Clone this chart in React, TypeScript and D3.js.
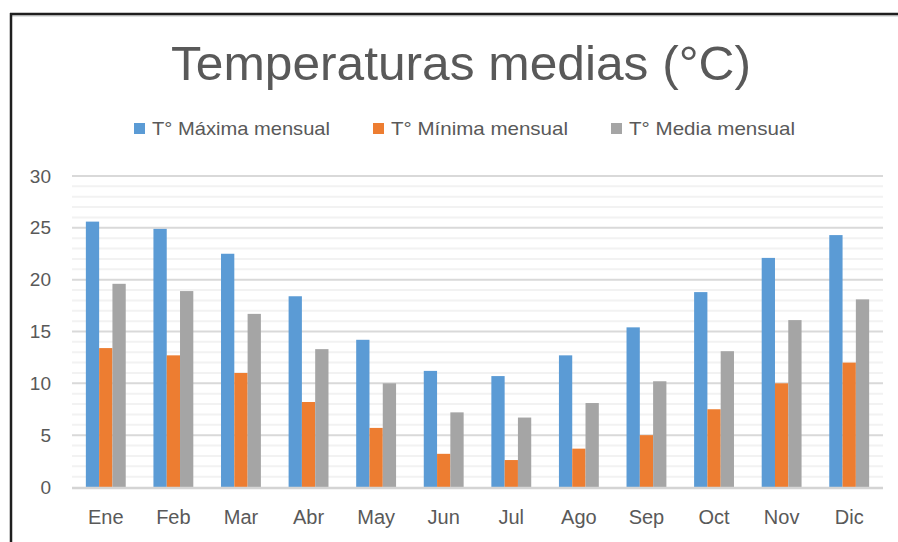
import React from "react";
import * as d3 from "d3";

const months = ["Ene", "Feb", "Mar", "Abr", "May", "Jun", "Jul", "Ago", "Sep", "Oct", "Nov", "Dic"];
const seriesNames = ["T° Máxima mensual", "T° Mínima mensual", "T° Media mensual"];
const maxTemp = [25.6, 24.9, 22.5, 18.4, 14.2, 11.2, 10.7, 12.7, 15.4, 18.8, 22.1, 24.3];
const minTemp = [13.4, 12.7, 11.0, 8.2, 5.7, 3.2, 2.6, 3.7, 5.0, 7.5, 10.0, 12.0];
const meanTemp = [19.6, 18.9, 16.7, 13.3, 10.0, 7.2, 6.7, 8.1, 10.2, 13.1, 16.1, 18.1];
const majorTicks = [0, 5, 10, 15, 20, 25, 30];
const minorTicks = d3.range(0, 31, 1).filter((v) => v % 5 !== 0);
const colors = ["#5b9bd5", "#ed7d31", "#a5a5a5"];

const W = 898;
const H = 542;
const FONT = "'Liberation Sans', Arial, sans-serif";

export default function App() {
  const seriesValues = [maxTemp, minTemp, meanTemp];
  const x0 = d3.scaleBand<string>().domain(months).range([72, 883]).paddingInner(0.41).paddingOuter(0.205);
  const x1 = d3.scaleBand<number>().domain([0, 1, 2]).range([0, x0.bandwidth()]).padding(0);
  const y = d3.scaleLinear().domain([0, 30]).range([487, 176]);
  const legendX = [134, 373, 611];
  const legendLen = [178, 177, 166];

  return (
    <svg width={W} height={H} style={{ position: "absolute", left: 0, top: 0, background: "#fff" }} fontFamily={FONT}>
      <rect x={0} y={0} width={W} height={H} fill="#fff" />
      {/* border */}
      <line x1={10} x2={W} y1={16} y2={16} stroke="#d6d9d9" strokeWidth={1.5} />
      <line x1={10} x2={W} y1={14} y2={14} stroke="#1f1f1f" strokeWidth={2.5} />
      <line x1={11} x2={11} y1={13} y2={H} stroke="#1f1f1f" strokeWidth={2.5} />

      {/* title */}
      <text x={461} y={80} textAnchor="middle" fontSize={49} fill="#595959" textLength={580} lengthAdjust="spacingAndGlyphs">
        Temperaturas medias (°C)
      </text>

      {/* legend */}
      {seriesNames.map((s, i) => (
        <g key={s}>
          <rect x={legendX[i]} y={123} width={11} height={11} fill={colors[i]} />
          <text x={legendX[i] + 18} y={135} fontSize={19} fill="#595959" textLength={legendLen[i]} lengthAdjust="spacingAndGlyphs">
            {s}
          </text>
        </g>
      ))}

      {/* gridlines */}
      {minorTicks.map((t) => (
        <line key={"m" + t} x1={72} x2={883} y1={y(t)} y2={y(t)} stroke="#f2f2f2" strokeWidth={2} />
      ))}
      {majorTicks.filter((t) => t !== 0).map((t) => (
        <line key={"M" + t} x1={72} x2={883} y1={y(t)} y2={y(t)} stroke="#d9d9d9" strokeWidth={2} />
      ))}

      {/* bars */}
      {months.map((m, mi) => (
        <g key={m} transform={`translate(${x0(m)},0)`}>
          {seriesValues.map((vals, si) => (
            <rect
              key={si}
              x={x1(si)}
              y={y(vals[mi])}
              width={x1.bandwidth()}
              height={y(0) - y(vals[mi])}
              fill={colors[si]}
            />
          ))}
        </g>
      ))}

      {/* zero axis line */}
      <line x1={72} x2={883} y1={y(0) + 1} y2={y(0) + 1} stroke="#d4d4d4" strokeWidth={2.5} />

      {/* y tick labels */}
      {majorTicks.map((t) => (
        <text key={"yl" + t} x={51} y={y(t)} dy="0.35em" textAnchor="end" fontSize={19} fill="#595959">
          {t}
        </text>
      ))}

      {/* x labels */}
      {months.map((m) => (
        <text key={"xl" + m} x={(x0(m) as number) + x0.bandwidth() / 2} y={524} textAnchor="middle" fontSize={20} fill="#595959">
          {m}
        </text>
      ))}
    </svg>
  );
}
